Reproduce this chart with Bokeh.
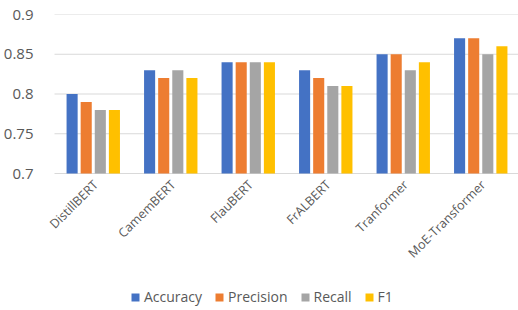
from bokeh.plotting import figure
from bokeh.models import ColumnDataSource, Legend, LegendItem, FixedTicker
from bokeh.core.properties import value
from bokeh.transform import dodge
from bokeh.embed import file_html
from bokeh.resources import INLINE
import math

models = ["DistillBERT", "CamemBERT", "FlauBERT", "FrALBERT", "Tranformer", "MoE-Transformer"]
accuracy = [0.80, 0.83, 0.84, 0.83, 0.85, 0.87]
precision = [0.79, 0.82, 0.84, 0.82, 0.85, 0.87]
recall = [0.78, 0.83, 0.84, 0.81, 0.83, 0.85]
f1 = [0.78, 0.82, 0.84, 0.81, 0.84, 0.86]
series_names = ["Accuracy", "Precision", "Recall", "F1"]
colors = ["#4472C4", "#ED7D31", "#A5A5A5", "#FFC000"]
y_ticks = [0.7, 0.75, 0.8, 0.85, 0.9]
y_base = 0.7

n = len(models)
xpos = [i + 0.5 for i in range(n)]  # category centres on a numeric scale
source = ColumnDataSource(dict(model=models, xpos=xpos, Accuracy=accuracy, Precision=precision,
                               Recall=recall, F1=f1, base=[y_base] * n))
grid_src = ColumnDataSource(dict(y=y_ticks, x0=[0] * len(y_ticks), x1=[n] * len(y_ticks)))

# frame extends below the baseline (labels + legend inside) and a little to the left
y_start = 0.7 - 137 * 0.2 / 159
p = figure(x_range=(-0.155, n), y_range=(y_start, 0.9),
           frame_width=477, frame_height=296, output_backend="svg", toolbar_location=None,
           min_border_left=40, min_border_right=1, min_border_top=14, min_border_bottom=0)

# horizontal gridlines across the category area only
p.segment(x0="x0", x1="x1", y0="y", y1="y", source=grid_src, line_color="#D9D9D9", line_width=1)

offsets = [-0.273, -0.091, 0.091, 0.273]
items = []
for name, col, off in zip(series_names, colors, offsets):
    r = p.vbar(x=dodge("xpos", off), top=name, bottom=y_base, width=0.143,
               source=source, fill_color=col, line_color=None)
    items.append(LegendItem(label=name, renderers=[r]))

# category labels, rotated 45 degrees, hanging under the baseline
p.text(x=dodge("xpos", 0.03), y="base", text="model", source=source,
       angle=math.pi / 4, text_align="right", text_baseline="middle",
       x_offset=0, y_offset=9, text_font=value("Open Sans"),
       text_font_size=value("12.5px"), text_color="#595959")

p.outline_line_color = None
p.xgrid.grid_line_color = None
p.ygrid.grid_line_color = None
p.xaxis.visible = False
p.yaxis.ticker = FixedTicker(ticks=y_ticks)
p.yaxis.major_label_overrides = {t: ("%g" % t) for t in y_ticks}
p.yaxis.axis_line_color = None
p.yaxis.major_tick_line_color = None
p.yaxis.minor_tick_line_color = None
p.yaxis.major_label_text_color = "#595959"
p.yaxis.major_label_text_font = "Open Sans"
p.yaxis.major_label_text_font_size = "15px"
p.yaxis.major_label_standoff = 3

legend = Legend(items=items, orientation="horizontal", location=(88, 4),
                label_text_font="Open Sans", label_text_font_size="14px",
                label_text_color="#595959", glyph_width=10, glyph_height=10,
                spacing=12, label_standoff=4, border_line_color=None,
                background_fill_alpha=0, padding=0, margin=0)
p.add_layout(legend, "center")

open("out.html", "w").write(file_html(p, INLINE))
